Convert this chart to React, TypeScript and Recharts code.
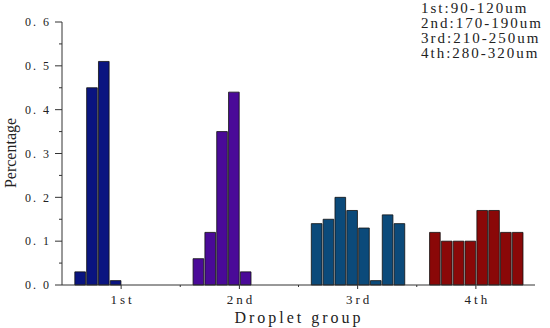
import React from 'react';
import { BarChart, Bar, XAxis, YAxis, Cell } from 'recharts';

// droplet groups and their size ranges
const groupLabels = ['1st', '2nd', '3rd', '4th'];
const sizeRanges = ['90-120um', '170-190um', '210-250um', '280-320um'];

// percentage per bin
const firstValues = [0.03, 0.45, 0.51, 0.01];
const secondValues = [0.06, 0.12, 0.35, 0.44, 0.03];
const thirdValues = [0.14, 0.15, 0.2, 0.17, 0.13, 0.01, 0.16, 0.14];
const fourthValues = [0.12, 0.1, 0.1, 0.1, 0.17, 0.17, 0.12, 0.12];

// first bin index of every group (each group spans 10 bins)
const groupStartBins = [1, 11, 21, 31];
const BIN_COUNT = 40;

const GROUP_COLORS = ['#0a1480', '#4a0a98', '#0b4a7a', '#8a0808'];

const yTicks = [0, 0.05, 0.1, 0.15, 0.2, 0.25, 0.3, 0.35, 0.4, 0.45, 0.5, 0.55, 0.6];
const xTicks = [5, 10, 15, 20, 25, 30, 35];

const allValues = [firstValues, secondValues, thirdValues, fourthValues];

const data = Array.from({ length: BIN_COUNT }, (_, i) => ({ x: i + 0.5, value: null as number | null, group: -1 }));
allValues.forEach((vals, g) => {
  vals.forEach((v, k) => {
    const slot = data[groupStartBins[g] + k];
    slot.value = v;
    slot.group = g;
  });
});

// SimSun-ish look: serif glyphs spread out to a monospace pitch
const SERIF = '"Liberation Serif", "DejaVu Serif", serif';
const TEXT = '#222';

const XTick = ({ x, y, payload }: any) => {
  const v = payload.value;
  const major = v % 10 === 5;
  const label = major ? groupLabels[(v - 5) / 10] : '';
  return (
    <g>
      <line x1={x} x2={x} y1={y} y2={y + (major ? 4 : 2)} stroke="#333" strokeWidth={1} />
      {major && (
        <text x={x + 1.5} y={y + 19} textAnchor="middle" fontFamily={SERIF} fontSize={13} letterSpacing={3} fill={TEXT}>
          {label}
        </text>
      )}
    </g>
  );
};

const YTick = ({ x, y, payload }: any) => {
  const v = payload.value;
  const major = Math.round(v * 100) % 10 === 0;
  return (
    <g>
      <line x1={x - (major ? 7 : 3)} x2={x} y1={y} y2={y} stroke="#333" strokeWidth={1} />
      {major && (
        <text x={x - 11} y={y} dy="0.35em" textAnchor="end" fontFamily={SERIF} fontSize={12} letterSpacing={2} fill={TEXT}>
          {v.toFixed(1).replace('.', '. ')}
        </text>
      )}
    </g>
  );
};

export default function App() {
  return (
    <div style={{ position: 'absolute', left: 0, top: 0, width: 550, height: 328, background: '#fff' }}>
      <BarChart
        width={550}
        height={328}
        data={data}
        margin={{ top: 22, right: 15, left: 0, bottom: 0 }}
        barCategoryGap={0}
        barGap={0}
      >
        <XAxis
          dataKey="x"
          type="number"
          domain={[0, BIN_COUNT]}
          ticks={xTicks}
          interval={0}
          height={43}
          tickSize={0}
          tickMargin={0}
          tickLine={false}
          tick={<XTick />}
          axisLine={{ stroke: '#333' }}
          label={{
            content: () => (
              <text x={299} y={323} textAnchor="middle" fontFamily={SERIF} fontSize={16} letterSpacing={3} fill={TEXT}>
                Droplet group
              </text>
            ),
          }}
        />
        <YAxis
          type="number"
          domain={[0, 0.6]}
          ticks={yTicks}
          interval={0}
          width={62}
          tickSize={0}
          tickMargin={0}
          tickLine={false}
          tick={<YTick />}
          axisLine={{ stroke: '#333' }}
          label={{
            content: () => (
              <text
                x={16}
                y={153}
                transform="rotate(-90 16 153)"
                textAnchor="middle"
                fontFamily={SERIF}
                fontSize={16}
                fill={TEXT}
              >
                Percentage
              </text>
            ),
          }}
        />
        <Bar dataKey="value" barSize={473 / BIN_COUNT} stroke="#111" strokeWidth={0.8} isAnimationActive={false}>
          {data.map((d, i) => (
            <Cell key={`bin-${i}`} fill={d.group >= 0 ? GROUP_COLORS[d.group] : 'none'} />
          ))}
        </Bar>
      </BarChart>
      <div
        style={{
          position: 'absolute',
          left: 421,
          top: 1,
          fontFamily: SERIF,
          fontSize: 15,
          letterSpacing: 2,
          lineHeight: '15px',
          color: TEXT,
          whiteSpace: 'pre',
        }}
      >
        {groupLabels.map((g, i) => (
          <div key={g}>{`${g}:${sizeRanges[i]}`}</div>
        ))}
      </div>
    </div>
  );
}
